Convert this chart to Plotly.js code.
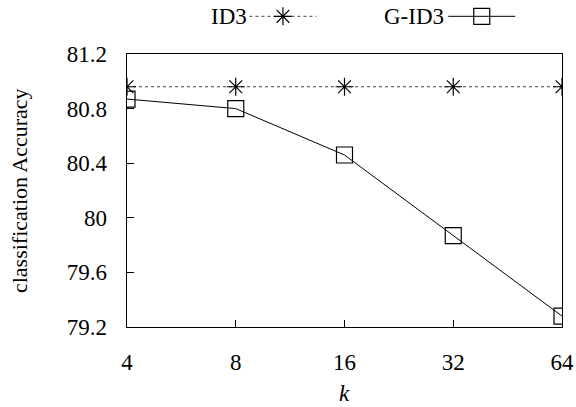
<!DOCTYPE html>
<html><head><meta charset="utf-8">
<script src="https://cdn.plot.ly/plotly-3.0.1.min.js"></script>
<style>html,body{margin:0;padding:0;background:#fff}</style>
</head><body>
<div id="chart" style="width:576px;height:407px"></div>
<script>
const kLabels = ['4', '8', '16', '32', '64'];
const id3Acc = [80.96, 80.96, 80.96, 80.96, 80.96];
const gid3Acc = [80.87, 80.80, 80.46, 79.87, 79.28];
const yTicks = [79.2, 79.6, 80, 80.4, 80.8, 81.2];
const seriesNames = ['ID3', 'G-ID3'];

const font = 'serif';
const traces = [
  {x: kLabels, y: id3Acc, type: 'scatter', mode: 'lines+markers', name: ' ', legend: 'legend',
   line: {color: '#444', width: 1, dash: 'dot'},
   marker: {symbol: 'asterisk-open', size: 15, color: '#000', line: {width: 1.2, color: '#000'}}},
  {x: kLabels, y: gid3Acc, type: 'scatter', mode: 'lines+markers', name: ' ', legend: 'legend2',
   line: {color: '#000', width: 1},
   marker: {symbol: 'square-open', size: 16, color: '#000', line: {width: 1.2, color: '#000'}}}
];
const legStyle = {orientation: 'h', xanchor: 'left', yanchor: 'middle', y: 1.138,
  font: {family: font, size: 8}, itemwidth: 67, bgcolor: 'rgba(0,0,0,0)', borderwidth: 0};
const layout = {
  width: 576, height: 407,
  margin: {l: 126.5, r: 14.3, t: 54, b: 80.3, autoexpand: false},
  paper_bgcolor: '#fff', plot_bgcolor: '#fff',
  font: {family: font, size: 23, color: '#000'},
  showlegend: true,
  legend: Object.assign({}, legStyle, {x: 0.27}),
  legend2: Object.assign({}, legStyle, {x: 0.727}),
  annotations: [
    {text: seriesNames[0], xref: 'paper', yref: 'paper', x: 0.281, y: 1.138, yanchor: 'middle', showarrow: false, xanchor: 'right', font: {family: font, size: 23}},
    {text: seriesNames[1], xref: 'paper', yref: 'paper', x: 0.734, y: 1.138, yanchor: 'middle', showarrow: false, xanchor: 'right', font: {family: font, size: 23}},
    {text: 'classification Accuracy', xref: 'paper', yref: 'paper', x: -0.247, y: 0.5, textangle: -90, showarrow: false, xanchor: 'center', yanchor: 'middle', font: {family: font, size: 22}},
    {text: '<i>k</i>', xref: 'paper', yref: 'paper', x: 0.5, y: -0.243, showarrow: false, xanchor: 'center', yanchor: 'middle', font: {family: font, size: 23}}
  ],
  xaxis: {type: 'category', range: [0, 4], showgrid: false, zeroline: false,
          showline: true, linecolor: '#000', linewidth: 1.3, mirror: true,
          ticks: 'inside', ticklen: 7, tickcolor: '#000', ticklabelstandoff: 14,
          tickfont: {family: font, size: 23}},
  yaxis: {range: [79.2, 81.2], tickvals: yTicks, ticktext: yTicks.map(String),
          showgrid: false, zeroline: false,
          showline: true, linecolor: '#000', linewidth: 1.3, mirror: true,
          ticks: 'inside', ticklen: 7, tickcolor: '#000', ticklabelstandoff: 14,
          tickfont: {family: font, size: 23}}
};
Plotly.newPlot('chart', traces, layout, {displayModeBar: false, staticPlot: true});
</script>
</body></html>
